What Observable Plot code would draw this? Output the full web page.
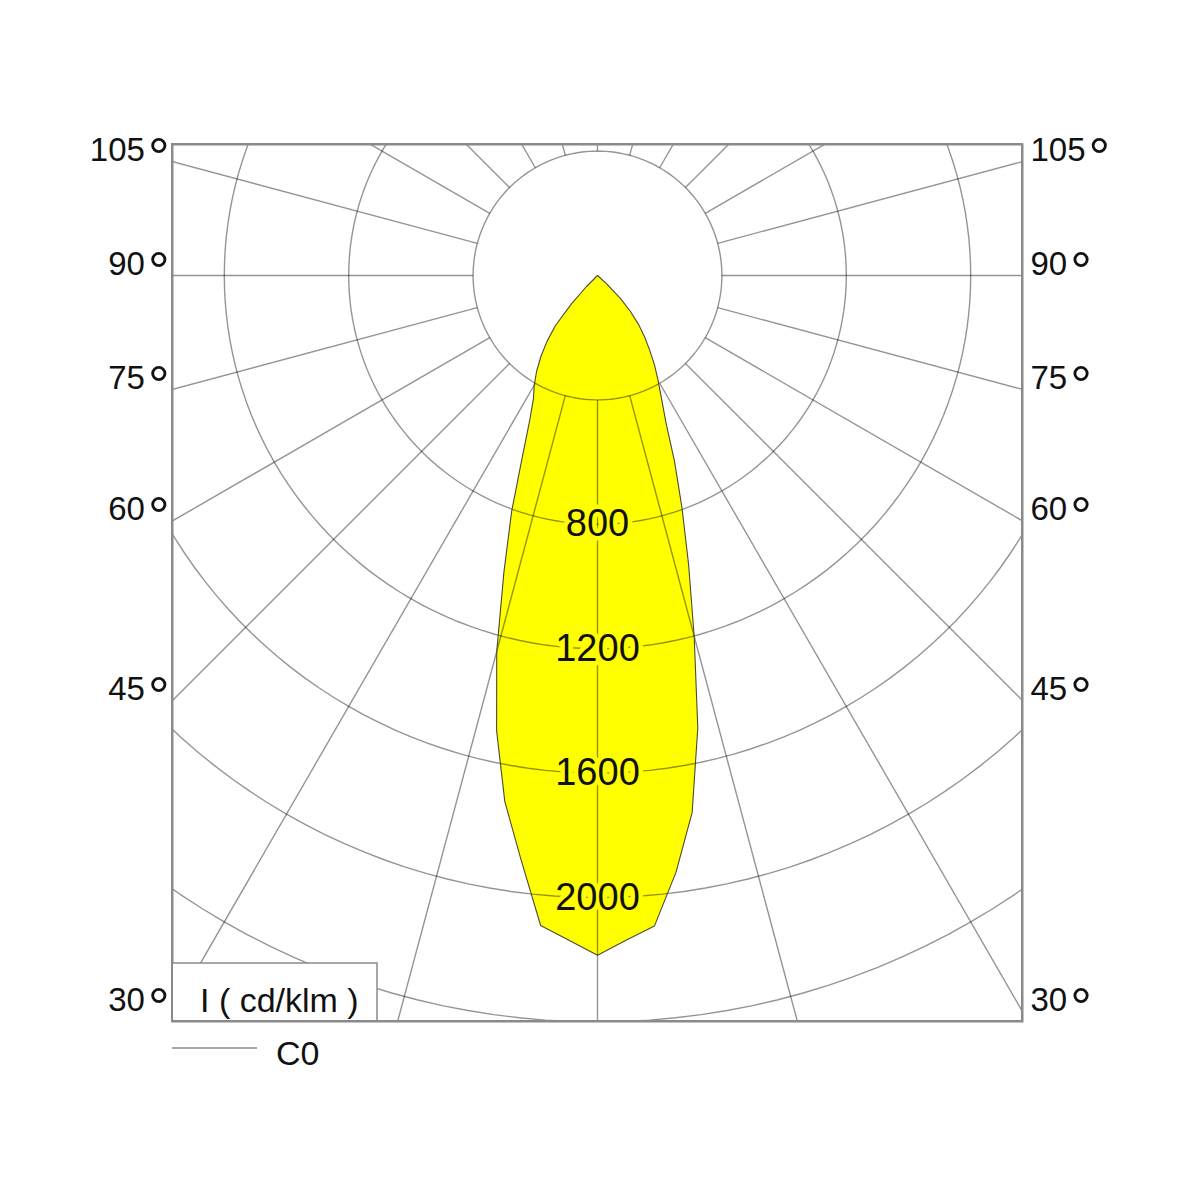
<!DOCTYPE html>
<html>
<head>
<meta charset="utf-8">
<script src="https://cdn.jsdelivr.net/npm/d3@7"></script>
<script src="https://cdn.jsdelivr.net/npm/@observablehq/plot@0.6"></script>
<style>
  body { margin: 0; background: #fff; }
  #chart svg { display: block; }
</style>
</head>
<body>
<div id="chart"></div>
<script>
// ---- Data ----
const gammaAngles = [0, 2.5, 5, 7.5, 10, 12.5, 15, 17.5, 20, 22.5, 25, 27.5, 30, 32.5, 35, 37.5, 40, 42.5, 45, 47.5, 50];
const intensityLeft  = [2186, 2139, 2098, 1891, 1717, 1499, 1252, 1001, 807, 632, 517, 446, 407, 364, 317, 266, 211, 125, 50, 0, 0];
const intensityRight = [2186, 2139, 2100, 1935, 1753, 1490, 1201, 974, 794, 647, 520, 446, 390, 341, 292, 249, 205, 156, 105, 40, 0];
const ringValues = [400, 800, 1200, 1600, 2000, 2400];
const ringLabels = [800, 1200, 1600, 2000];
const radialAngles = [0, 15, 30, 45, 60, 75, 90, 105, 120, 135, 150, 165, 180, 195, 210, 225, 240, 255, 270, 285, 300, 315, 330, 345];
const angleLabels = [30, 45, 60, 75, 90, 105];
const unitLabel = "I ( cd/klm )";
const seriesName = "C0";

// ---- Layout ----
const W = 1200, H = 1100;
const mL = 172, mR = 178, mT = 144, mB = H - 1021;
const k = 0.311; // px per cd/klm
const cxPx = 597, cyPx = 275;
const xDomain = [-(cxPx - mL) / k, (W - mR - cxPx) / k];
const yDomain = [-(H - mB - cyPx) / k, (cyPx - mT) / k];
const rad = d => d * Math.PI / 180;

// polygon of the C0 curve: left half (gamma ascending), right half (descending)
const curve = [];
gammaAngles.forEach((g, i) => curve.push({x: -intensityLeft[i] * Math.sin(rad(g)), y: -intensityLeft[i] * Math.cos(rad(g))}));
for (let i = gammaAngles.length - 1; i >= 0; i--) {
  const g = gammaAngles[i];
  curve.push({x: intensityRight[i] * Math.sin(rad(g)), y: -intensityRight[i] * Math.cos(rad(g))});
}

// ring grid
const ringPts = [];
ringValues.forEach(r => { for (let a = 0; a <= 360; a += 2) ringPts.push({r, x: r * Math.sin(rad(a)), y: r * Math.cos(rad(a))}); });

const innerR = ringValues[0];
const outerR = 4000;
const gridStyle = {stroke: "#000", strokeOpacity: 0.42, strokeWidth: 1.4, clip: true};

const XL = -xDomain[0], XR = xDomain[1];
const labelY = (g, X) => -X * Math.cos(rad(g)) / Math.sin(rad(g));

const plot = Plot.plot({
  width: W, height: H,
  marginLeft: mL, marginRight: mR, marginTop: mT, marginBottom: mB,
  x: {domain: xDomain, axis: null},
  y: {domain: yDomain, axis: null},
  style: {fontFamily: "'Liberation Sans', Arial, Helvetica, sans-serif", background: "#fff", color: "#111"},
  marks: [
    Plot.line(curve, {x: "x", y: "y", fill: "#ffff00", stroke: "none", curve: "linear-closed"}),
    Plot.line(ringPts, {x: "x", y: "y", z: "r", ...gridStyle}),
    Plot.link(radialAngles, {
      x1: a => innerR * Math.sin(rad(a)), y1: a => -innerR * Math.cos(rad(a)),
      x2: a => outerR * Math.sin(rad(a)), y2: a => -outerR * Math.cos(rad(a)),
      ...gridStyle
    }),
    Plot.line(curve, {x: "x", y: "y", fill: "none", stroke: "#4a4a3a", strokeWidth: 1.1, curve: "linear-closed"}),
    Plot.text(ringLabels, {
      x: () => 0, y: d => -d, text: d => String(d),
      fontSize: 38, fill: "#111", stroke: "#ffff00", strokeWidth: 9,
      textAnchor: "middle", lineAnchor: "middle"
    }),
    Plot.frame({stroke: "#8a8a8a", strokeWidth: 2}),
    Plot.text(angleLabels, {
      x: () => -XL, y: g => labelY(g, XL), text: g => `${g}°`,
      fontSize: 33, fill: "#111", textAnchor: "end", lineAnchor: "middle", dx: -3, dy: -11
    }),
    Plot.text(angleLabels, {
      x: () => XR, y: g => labelY(g, XR), text: g => `${g}°`,
      fontSize: 33, fill: "#111", textAnchor: "start", lineAnchor: "middle", dx: 8, dy: -11
    })
  ]
});

const svg = d3.select(plot);
// larger degree ring as in the reference
svg.selectAll("text").filter(function () { return this.textContent.endsWith("°"); }).each(function () {
  const t = d3.select(this);
  const s = this.textContent.slice(0, -1);
  t.text(s);
  t.append("tspan").attr("font-size", 54).attr("dx", 3).attr("dy", 15).text("°");
});

// legend box (inside frame, bottom-left) and series legend below
const fb = H - mB; // frame bottom
const g = svg.append("g").attr("text-anchor", "start");
g.append("rect").attr("x", mL).attr("y", fb - 58).attr("width", 205).attr("height", 58)
  .attr("fill", "#fff").attr("stroke", "#8a8a8a").attr("stroke-width", 1.5);
g.append("text").attr("x", mL + 28).attr("y", fb - 9).attr("font-size", 34).attr("fill", "#111")
  .attr("text-anchor", "start").text(unitLabel);
g.append("line").attr("x1", mL).attr("x2", mL + 85).attr("y1", fb + 27).attr("y2", fb + 27)
  .attr("stroke", "#8a8a8a").attr("stroke-width", 1.5);
g.append("text").attr("x", mL + 104).attr("y", fb + 44).attr("font-size", 34).attr("fill", "#111")
  .attr("text-anchor", "start").text(seriesName);
// redraw frame edge over legend box
g.append("rect").attr("x", mL).attr("y", mT).attr("width", W - mL - mR).attr("height", fb - mT)
  .attr("fill", "none").attr("stroke", "#8a8a8a").attr("stroke-width", 2);

document.getElementById("chart").appendChild(plot);
</script>
</body>
</html>
